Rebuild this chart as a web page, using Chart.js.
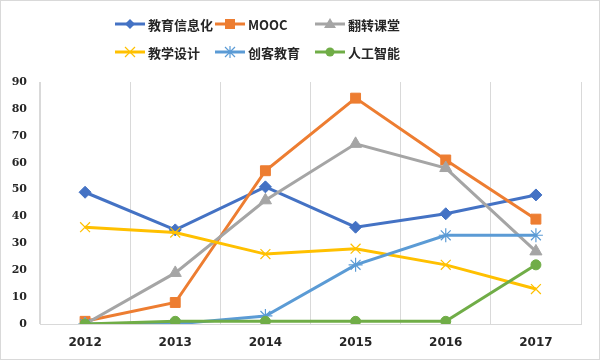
<!DOCTYPE html>
<html><head><meta charset="utf-8">
<script src="https://cdn.jsdelivr.net/npm/chart.js@4"></script>
<style>
html,body{margin:0;padding:0;background:#fff;}
#wrap{position:relative;width:600px;height:360px;}
canvas{position:absolute;left:0;top:0;}
.lg{position:absolute;display:flex;align-items:center;font-family:"Noto Sans CJK SC","Noto Sans",sans-serif;font-weight:bold;font-size:13px;color:#262626;white-space:nowrap;}
.lg svg{margin-right:3px;}
</style></head>
<body><div id="wrap"><canvas id="c" width="600" height="360"></canvas><div id="legend"></div></div>
<script>
const categories = ['2012','2013','2014','2015','2016','2017'];
const seriesNames = ['教育信息化','MOOC','翻转课堂','教学设计','创客教育','人工智能'];
const eduInfo   = [49, 35, 51, 36, 41, 48];
const mooc      = [1, 8, 57, 84, 61, 39];
const flipped   = [0, 19, 46, 67, 58, 27];
const design    = [36, 34, 26, 28, 22, 13];
const maker     = [0, 0, 3, 22, 33, 33];
const ai        = [0, 1, 1, 1, 1, 22];
const yTicks    = [0,10,20,30,40,50,60,70,80,90];

const values = [eduInfo, mooc, flipped, design, maker, ai];
const colors = ['#4472C4','#ED7D31','#A5A5A5','#FFC000','#5B9BD5','#70AD47'];
const styles = ['rectRot','rect','triangle','crossRot','star','circle'];
const radii  = [6, 7, 7, 7, 7, 5];

const datasets = values.map((v,i)=>({
  label: seriesNames[i], data: v,
  borderColor: colors[i], backgroundColor: colors[i],
  borderWidth: 3, pointStyle: styles[i], pointRadius: radii[i],
  pointBorderWidth: (styles[i]==='crossRot'||styles[i]==='star') ? 1.2 : 1,
  pointBackgroundColor: colors[i], pointBorderColor: colors[i],
  tension: 0, order: 5 - i
}));

const borderPlugin = {
  id:'frame',
  beforeDraw(chart){ chart.ctx.letterSpacing = '0px'; },
  afterDraw(chart){
    const ctx = chart.ctx; ctx.save();
    ctx.strokeStyle = '#d9d9d9'; ctx.lineWidth = 1;
    ctx.strokeRect(0.5,0.5,599,359); ctx.restore();
  }
};

new Chart(document.getElementById('c'), {
  type:'line',
  data:{labels:categories, datasets},
  options:{
    responsive:false, animation:false,
    layout:{padding:{top:82,right:19,left:0,bottom:0}},
    plugins:{legend:{display:false}, tooltip:{enabled:false}},
    scales:{
      x:{
        offset:true,
        grid:{offset:true, color:'#d9d9d9', drawTicks:false, lineWidth:1},
        border:{color:'#d9d9d9'},
        ticks:{color:'#262626', font:{family:'"DejaVu Sans", sans-serif', weight:'bold', size:12}, padding:12},
        afterFit(s){ s.height = 36; }
      },
      y:{
        min:0, max:90,
        afterBuildTicks(s){ s.ticks = yTicks.map(v=>({value:v})); },
        grid:{display:false, drawTicks:false},
        border:{color:'#d9d9d9'},
        ticks:{color:'#262626', font:{family:'"DejaVu Serif", serif', weight:'bold', size:11}, padding:13},
        afterFit(s){ s.width = 40; }
      }
    }
  },
  plugins:[borderPlugin]
});

// HTML legend
const legendPos = [[115,24],[215,24],[315,24],[115,52],[215,52],[315,52]];
function markerSvg(i){
  const c = colors[i];
  let m = '';
  const cx=15, cy=7;
  switch(styles[i]){
    case 'rectRot': m = `<polygon points="${cx},${cy-5} ${cx+5},${cy} ${cx},${cy+5} ${cx-5},${cy}" fill="${c}"/>`; break;
    case 'rect': m = `<rect x="${cx-5}" y="${cy-5}" width="10" height="10" fill="${c}"/>`; break;
    case 'triangle': m = `<polygon points="${cx},${cy-6} ${cx+6},${cy+4} ${cx-6},${cy+4}" fill="${c}"/>`; break;
    case 'crossRot': m = `<path d="M${cx-5} ${cy-5}L${cx+5} ${cy+5}M${cx+5} ${cy-5}L${cx-5} ${cy+5}" stroke="${c}" stroke-width="1.2"/>`; break;
    case 'star': m = `<path d="M${cx-5} ${cy-5}L${cx+5} ${cy+5}M${cx+5} ${cy-5}L${cx-5} ${cy+5}M${cx} ${cy-6}L${cx} ${cy+6}" stroke="${c}" stroke-width="1.2"/>`; break;
    case 'circle': m = `<circle cx="${cx}" cy="${cy}" r="4.5" fill="${c}"/>`; break;
  }
  return `<svg width="30" height="14" viewBox="0 0 30 14"><line x1="0" y1="7" x2="30" y2="7" stroke="${c}" stroke-width="3"/>${m}</svg>`;
}
const lg = document.getElementById('legend');
seriesNames.forEach((n,i)=>{
  const d = document.createElement('div');
  d.className='lg';
  d.style.left = legendPos[i][0]+'px';
  d.style.top = (legendPos[i][1]-9)+'px';
  d.style.height='18px';
  d.innerHTML = markerSvg(i) + '<span>'+n+'</span>';
  lg.appendChild(d);
});
</script>
</body></html>
